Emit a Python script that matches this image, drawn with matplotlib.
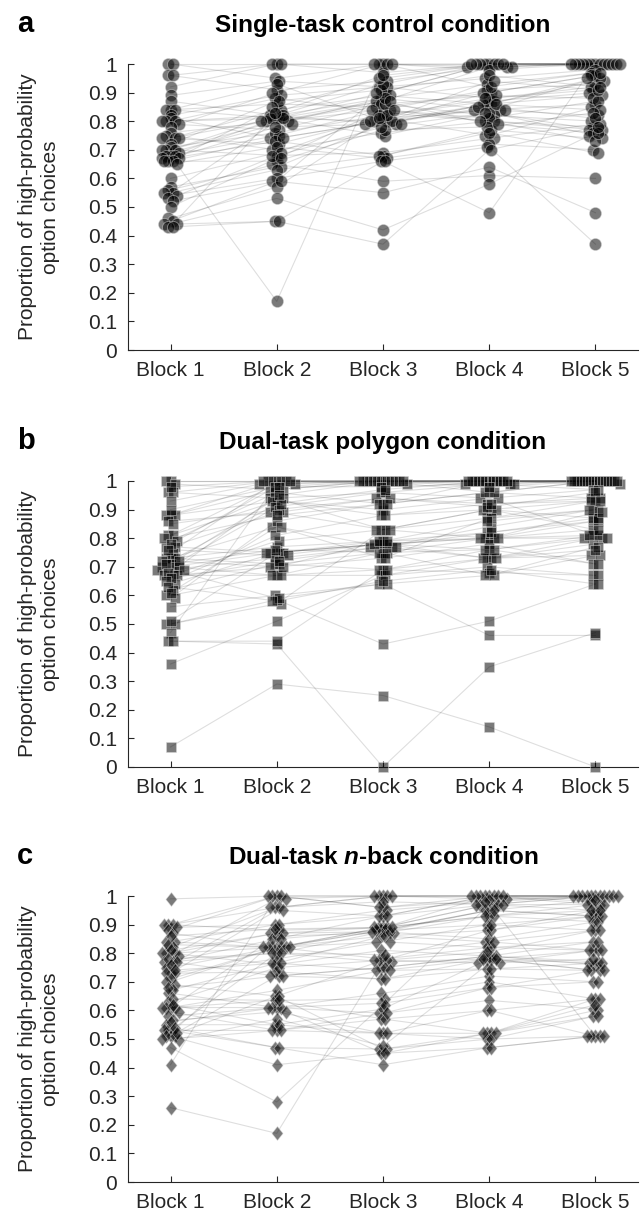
import numpy as np
import matplotlib
matplotlib.use('Agg')
import matplotlib.pyplot as plt
from matplotlib.path import Path

plt.rcParams['font.family'] = 'Liberation Sans'
plt.rcParams['mathtext.fontset'] = 'custom'
plt.rcParams['mathtext.it'] = 'Liberation Sans:italic:bold'
plt.rcParams['mathtext.rm'] = 'Liberation Sans:bold'

blocks = ['Block 1', 'Block 2', 'Block 3', 'Block 4', 'Block 5']
yticks = [0, 0.1, 0.2, 0.3, 0.4, 0.5, 0.6, 0.7, 0.8, 0.9, 1]
ytick_labels = ['0', '0.1', '0.2', '0.3', '0.4', '0.5', '0.6', '0.7', '0.8', '0.9', '1']

# proportion of high-probability choices, one entry per participant (same index across blocks)
# (a) single-task control
ctrl_b1 = [1.00, 1.00, 0.96, 0.96, 0.92, 0.89, 0.87, 0.84, 0.84, 0.84, 0.82, 0.81, 0.80, 0.80, 0.80, 0.79, 0.78,
           0.76, 0.75, 0.74, 0.74, 0.74, 0.72, 0.71, 0.70, 0.70, 0.70, 0.69, 0.68, 0.68, 0.68, 0.67, 0.67, 0.66,
           0.66, 0.66, 0.65, 0.60, 0.57, 0.56, 0.55, 0.55, 0.54, 0.53, 0.52, 0.50, 0.46, 0.45, 0.44, 0.44, 0.43, 0.43]
ctrl_b2 = [1.00, 0.95, 1.00, 0.91, 1.00, 0.94, 0.82, 0.93, 0.81, 0.86, 0.89, 0.74, 0.81, 0.88, 0.82, 0.77, 0.90,
           0.80, 0.70, 0.84, 0.72, 0.81, 0.87, 0.76, 0.80, 0.68, 0.82, 0.79, 0.81, 0.75, 0.17, 0.78, 0.73, 0.85,
           0.74, 0.66, 0.71, 0.69, 0.64, 0.65, 0.63, 0.80, 0.60, 0.68, 0.59, 0.67, 0.57, 0.59, 0.53, 0.45, 0.45, 0.83]
ctrl_b3 = [1.00, 1.00, 0.97, 0.94, 1.00, 0.92, 0.88, 0.80, 0.90, 0.85, 0.92, 0.80, 0.87, 0.83, 0.79, 0.86, 1.00,
           0.84, 0.76, 0.89, 0.81, 0.75, 0.91, 0.82, 0.86, 0.69, 0.93, 0.88, 0.80, 0.84, 1.00, 0.79, 0.68, 0.95,
           0.80, 0.77, 0.67, 0.82, 0.79, 0.59, 0.68, 0.87, 0.66, 0.78, 0.55, 0.84, 0.81, 0.90, 0.42, 0.37, 0.66, 0.96]
ctrl_b4 = [1.00, 1.00, 1.00, 0.99, 0.99, 0.95, 0.93, 0.86, 1.00, 0.90, 0.88, 0.84, 0.99, 0.80, 0.86, 0.82, 0.98,
           0.91, 0.80, 0.86, 0.75, 0.83, 0.96, 0.87, 0.89, 0.74, 1.00, 0.84, 0.90, 0.81, 0.92, 0.86, 0.77, 1.00,
           0.94, 0.78, 0.72, 0.88, 0.85, 0.61, 0.76, 0.79, 0.71, 0.83, 0.64, 0.80, 0.84, 1.00, 0.58, 0.70, 0.48, 1.00]
ctrl_b5 = [1.00, 1.00, 1.00, 1.00, 1.00, 0.98, 0.97, 0.94, 1.00, 0.96, 0.91, 0.86, 1.00, 0.78, 0.89, 0.80, 1.00,
           0.93, 0.77, 0.95, 0.85, 0.77, 0.92, 0.90, 0.88, 0.79, 1.00, 0.82, 0.96, 0.87, 0.97, 0.84, 0.74, 1.00,
           0.91, 0.83, 0.70, 0.92, 0.81, 0.60, 0.69, 0.76, 0.37, 0.75, 0.48, 0.73, 0.95, 1.00, 0.76, 0.78, 1.00, 1.00]

# (b) dual-task polygon
poly_b1 = [1.00, 1.00, 0.99, 0.96, 0.96, 0.93, 0.88, 0.88, 0.88, 0.86, 0.81, 0.81, 0.79, 0.77, 0.77, 0.75, 0.73,
           0.73, 0.73, 0.71, 0.70, 0.70, 0.70, 0.69, 0.67, 0.67, 0.67, 0.64, 0.62, 0.60, 0.59, 0.56, 0.50, 0.50,
           0.47, 0.44, 0.36, 0.07, 0.98, 0.90, 0.85, 0.80, 0.78, 0.76, 0.72, 0.72, 0.71, 0.69, 0.68, 0.66, 0.65,
           0.63, 0.61, 0.51, 0.44]
poly_b2 = [1.00, 1.00, 0.97, 1.00, 0.94, 1.00, 0.97, 0.93, 1.00, 0.89, 0.99, 0.93, 0.96, 0.89, 0.75, 1.00, 0.84,
           0.77, 0.71, 0.94, 0.75, 0.67, 0.91, 0.73, 0.79, 0.70, 0.67, 0.75, 0.71, 0.67, 0.86, 0.60, 0.57, 0.585,
           0.99, 0.43, 0.51, 0.29, 1.00, 0.98, 0.90, 0.88, 0.98, 0.74, 0.92, 0.70, 0.76, 0.59, 0.95, 0.72, 0.81,
           0.58, 0.84, 0.75, 0.44]
poly_b3 = [1.00, 1.00, 1.00, 0.99, 0.96, 1.00, 1.00, 0.90, 1.00, 0.94, 1.00, 0.88, 0.92, 0.83, 0.78, 1.00, 0.77,
           0.79, 0.75, 0.83, 0.78, 0.69, 0.96, 0.77, 0.83, 0.73, 0.67, 0.78, 0.69, 0.75, 0.92, 0.64, 0.83, 0.43,
           1.00, 0.00, 0.67, 0.25, 1.00, 0.98, 0.94, 0.92, 1.00, 0.78, 0.97, 0.79, 0.75, 0.64, 1.00, 0.77, 0.88,
           0.65, 0.73, 0.79, 0.69]
poly_b4 = [1.00, 1.00, 1.00, 1.00, 0.99, 1.00, 1.00, 0.94, 0.96, 0.92, 1.00, 0.90, 0.96, 0.87, 0.80, 1.00, 0.82,
           0.80, 0.76, 0.90, 0.73, 0.73, 0.94, 0.84, 0.80, 0.78, 0.70, 0.80, 0.68, 0.67, 1.00, 0.46, 0.90, 0.51,
           0.99, 0.35, 0.73, 0.14, 1.00, 0.99, 0.91, 0.96, 1.00, 0.76, 1.00, 0.82, 0.80, 0.67, 0.98, 0.73, 0.92,
           0.69, 0.87, 0.86, 0.76]
poly_b5 = [1.00, 1.00, 1.00, 1.00, 1.00, 0.99, 1.00, 0.97, 1.00, 0.94, 1.00, 0.93, 0.94, 0.90, 0.81, 1.00, 0.86,
           0.83, 0.80, 0.87, 0.78, 0.74, 0.81, 0.90, 0.80, 0.71, 0.67, 0.86, 0.67, 0.74, 1.00, 0.46, 0.83, 0.64,
           0.97, 0.47, 0.80, 0.00, 1.00, 1.00, 0.96, 1.00, 1.00, 0.81, 1.00, 0.87, 0.89, 0.77, 1.00, 0.76, 0.93,
           0.64, 0.93, 0.90, 0.71]

# (c) dual-task n-back
nb_b1 = [0.99, 0.90, 0.90, 0.90, 0.88, 0.87, 0.84, 0.84, 0.82, 0.80, 0.80, 0.80, 0.79, 0.77, 0.77, 0.77, 0.75,
         0.73, 0.73, 0.73, 0.71, 0.69, 0.67, 0.66, 0.63, 0.61, 0.61, 0.61, 0.61, 0.595, 0.58, 0.565, 0.55, 0.53,
         0.53, 0.53, 0.51, 0.51, 0.51, 0.495, 0.47, 0.41, 0.26, 0.89, 0.86, 0.83, 0.81, 0.78, 0.76, 0.74, 0.70,
         0.68, 0.64, 0.62, 0.56, 0.54, 0.52, 0.50]
nb_b2 = [1.00, 1.00, 0.96, 0.88, 1.00, 0.82, 0.90, 0.82, 0.96, 0.87, 0.82, 0.76, 0.99, 0.85, 0.80, 0.72, 0.82,
         0.95, 0.78, 0.735, 0.82, 0.65, 0.765, 0.61, 0.75, 0.86, 0.635, 0.61, 0.67, 0.53, 0.61, 0.595, 0.55, 0.80,
         0.53, 0.47, 0.72, 0.41, 0.65, 0.57, 0.28, 1.00, 0.17, 0.90, 0.885, 0.82, 0.87, 0.80, 0.96, 0.765, 0.82,
         0.72, 0.635, 0.55, 0.61, 0.47, 0.85, 0.53]
nb_b3 = [1.00, 0.96, 1.00, 0.89, 1.00, 0.88, 0.93, 0.86, 0.98, 0.89, 0.78, 0.81, 1.00, 0.88, 0.77, 0.75, 0.89,
         0.93, 0.84, 0.71, 0.88, 0.775, 0.86, 0.66, 0.775, 0.87, 0.64, 0.59, 0.74, 0.52, 0.625, 0.52, 0.605, 0.875,
         0.57, 0.465, 0.75, 0.45, 0.465, 0.475, 0.62, 0.96, 0.775, 0.95, 0.89, 0.84, 0.875, 0.795, 1.00, 0.74,
         0.89, 0.71, 0.57, 0.52, 0.45, 0.41, 0.93, 0.59]
nb_b4 = [1.00, 1.00, 0.99, 0.97, 1.00, 0.95, 1.00, 0.84, 0.97, 0.93, 0.82, 0.79, 1.00, 0.95, 0.78, 0.79, 0.97,
         1.00, 0.82, 0.78, 0.90, 0.805, 0.88, 0.72, 0.765, 0.93, 0.70, 0.635, 0.745, 0.52, 0.68, 0.60, 0.78, 0.85,
         0.52, 0.50, 0.79, 0.47, 0.52, 0.765, 0.97, 0.985, 0.88, 0.98, 0.93, 0.90, 0.95, 0.84, 1.00, 0.78, 1.00,
         0.745, 0.60, 0.50, 0.52, 0.47, 0.97, 0.68]
nb_b5 = [1.00, 1.00, 1.00, 0.97, 1.00, 0.93, 1.00, 0.88, 0.95, 0.91, 0.81, 0.76, 0.98, 0.93, 0.74, 0.77, 1.00,
         0.97, 0.84, 0.74, 0.93, 0.88, 0.95, 0.70, 0.81, 0.97, 0.64, 0.605, 0.765, 0.58, 0.74, 0.51, 0.81, 0.91,
         0.64, 0.51, 0.84, 0.51, 0.60, 0.78, 0.51, 1.00, 0.93, 1.00, 0.95, 0.88, 0.985, 0.81, 1.00, 0.765, 1.00,
         0.74, 0.64, 0.58, 0.62, 0.51, 1.00, 0.70]

titles = ['Single-task control condition', 'Dual-task polygon condition', 'Dual-task $n$-back condition']
letters = ['a', 'b', 'c']

diamond = Path([(0, 1), (0.8, 0), (0, -1), (-0.8, 0), (0, 1)],
               [Path.MOVETO, Path.LINETO, Path.LINETO, Path.LINETO, Path.CLOSEPOLY])

panels = [
    (np.array([ctrl_b1, ctrl_b2, ctrl_b3, ctrl_b4, ctrl_b5]), 'o', 76),
    (np.array([poly_b1, poly_b2, poly_b3, poly_b4, poly_b5]), 's', 50),
    (np.array([nb_b1, nb_b2, nb_b3, nb_b4, nb_b5]), diamond, 100),
]


def spread(vals, step=0.042, binw=0.025, maxwidth=0.46):
    # plotSpread-like offsets: points sharing a bin fan out from the centre
    vals = np.asarray(vals)
    offs = np.zeros(len(vals))
    keys = np.round(vals / binw).astype(int)
    for k in np.unique(keys):
        idx = np.where(keys == k)[0]
        idx = idx[np.argsort(-vals[idx], kind='stable')]
        n = len(idx)
        st = step if n < 2 else min(step, maxwidth / (n - 1))
        slots = np.arange(n) - (n - 1) / 2
        slots = slots[np.argsort(np.abs(slots), kind='stable')]
        offs[idx] = slots * st
    return offs


fig = plt.figure(figsize=(6.42, 12.18), dpi=100)

W, H = 642, 1218
ax_left = 128 / W
ax_width = 510 / W
ax_height = 286 / H
tops_px = [64, 481, 896]  # pixel row of y = 1 for each panel

x_pos = np.arange(1, 6)

for p, (data, marker, msize) in enumerate(panels):
    top = tops_px[p]
    ax = fig.add_axes([ax_left, 1 - (top + 286) / H, ax_width, ax_height])

    # participant lines between block centres
    for j in range(data.shape[1]):
        ax.plot(x_pos, data[:, j], color=(0, 0, 0, 0.13), lw=0.8, zorder=1, clip_on=False)

    for b in range(5):
        vals = data[b]
        ax.scatter(x_pos[b] + spread(vals), vals, s=msize, marker=marker,
                   facecolor=(0, 0, 0, 0.52), edgecolor=(0.85, 0.85, 0.85, 0.55),
                   linewidths=0.6, zorder=3, clip_on=False)

    ax.set_xlim(0.6, 5.4)
    ax.set_ylim(0, 1)
    ax.set_xticks(x_pos)
    ax.set_xticklabels(blocks)
    ax.set_yticks(yticks)
    ax.set_yticklabels(ytick_labels)
    ax.tick_params(direction='in', length=4, width=0.8, labelsize=15, pad=8, colors='#262626')
    for side in ['top', 'right']:
        ax.spines[side].set_visible(False)
    for side in ['left', 'bottom']:
        ax.spines[side].set_color('#262626')
        ax.spines[side].set_linewidth(0.8)

    ax.set_title(titles[p], fontsize=17.5, fontweight='bold', pad=23)
    fig.text(17 / W, 1 - (top - 32) / H, letters[p], fontsize=21, fontweight='bold', va='baseline')
    fig.text(39 / W, 1 - (top + 143) / H, 'Proportion of high-probability\noption choices',
             rotation=90, ha='center', va='center', fontsize=15, linespacing=1.25,
             multialignment='center', color='#262626')

fig.savefig('out.png', dpi=100)
